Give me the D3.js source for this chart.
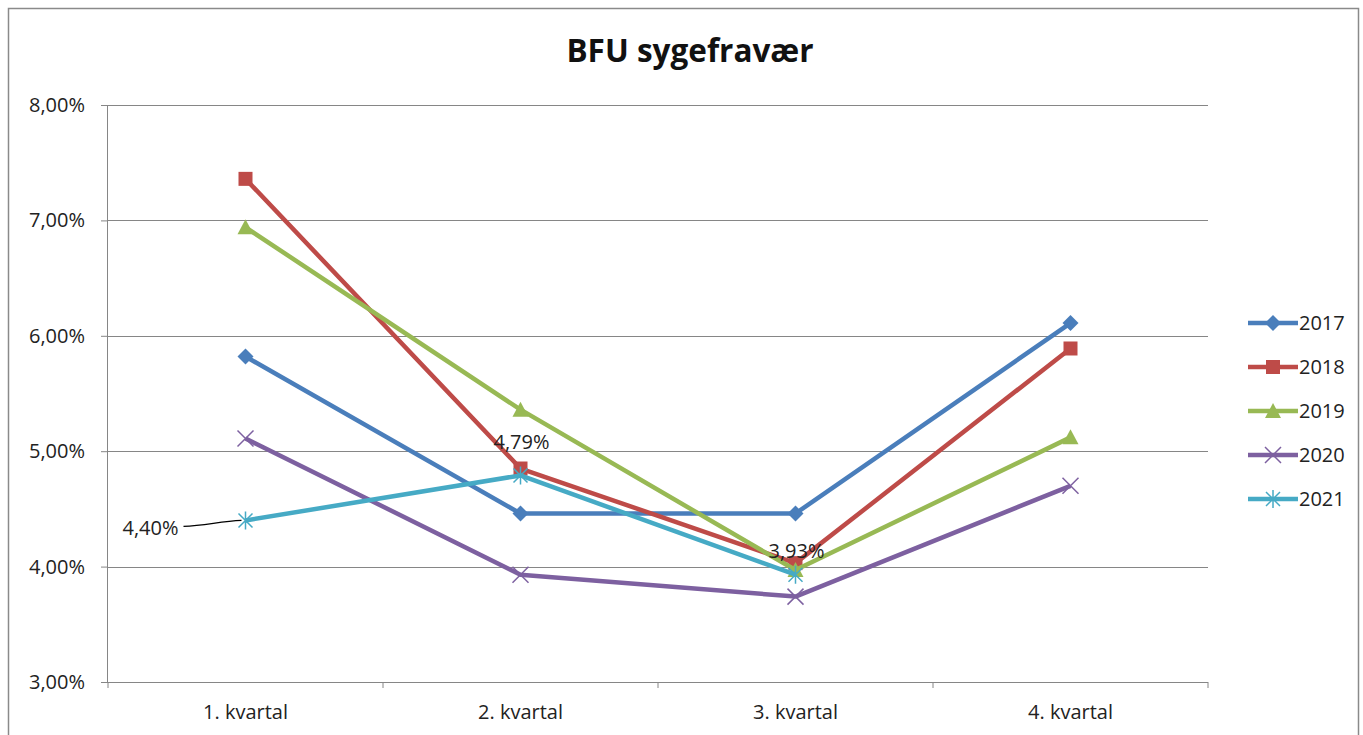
<!DOCTYPE html>
<html>
<head>
<meta charset="utf-8">
<style>
  body { margin: 0; background: #fff; }
  svg { font-family: "Open Sans", "Noto Sans", sans-serif; }
  .grid line { stroke: #868686; stroke-width: 1; }
  .axis path, .axis line { stroke: #868686; }
  .line { fill: none; stroke-width: 4.5; stroke-linejoin: round; }
</style>
</head>
<body>
<script src="https://d3js.org/d3.v7.min.js"></script>
<script>
var categories = ["1. kvartal", "2. kvartal", "3. kvartal", "4. kvartal"];
var years = ["2017", "2018", "2019", "2020", "2021"];
var v2017 = [5.82, 4.46, 4.46, 6.11];
var v2018 = [7.36, 4.85, 4.03, 5.89];
var v2019 = [6.94, 5.36, 3.97, 5.12];
var v2020 = [5.11, 3.93, 3.74, 4.70];
var v2021 = [4.40, 4.79, 3.93, null];
var yTicks = [3, 4, 5, 6, 7, 8];
var colors = ["#4A7EBB", "#BE4B48", "#98B954", "#7D60A0", "#46AAC5"];
var symbols = ["diamond", "square", "triangle", "x", "star"];
var seriesValues = [v2017, v2018, v2019, v2020, v2021];

var width = 1363, height = 735;
var margin = {top: 105, left: 108, right: 155, bottom: 53};
var plotW = width - margin.left - margin.right;
var plotH = height - margin.top - margin.bottom;
var FONT = "'Open Sans', 'Noto Sans', sans-serif";

var svg = d3.select("body").append("svg")
  .attr("width", width).attr("height", height);

// outer chart frame
svg.append("rect")
  .attr("x", 8.5).attr("y", 8.5)
  .attr("width", 1350).attr("height", 740)
  .attr("fill", "#fff").attr("stroke", "#8a8a8a").attr("stroke-width", 1.5);

svg.append("text")
  .attr("x", 690).attr("y", 62)
  .attr("text-anchor", "middle")
  .attr("font-family", FONT)
  .attr("font-size", "31.5px").attr("font-weight", "bold").attr("fill", "#111")
  .text("BFU sygefravær");

var g = svg.append("g").attr("transform", "translate(" + margin.left + "," + margin.top + ")");

var x = d3.scaleBand().domain(categories).range([0, plotW]);
var y = d3.scaleLinear().domain([3, 8]).range([plotH, 0]);
var fmt = function(d) { return d.toFixed(2).replace(".", ",") + "%"; };

// gridlines
g.append("g").attr("class", "grid")
  .selectAll("line").data(yTicks.slice(1)).enter().append("line")
  .attr("x1", 0).attr("x2", plotW)
  .attr("y1", function(d) { return Math.round(y(d)) + 0.5; })
  .attr("y2", function(d) { return Math.round(y(d)) + 0.5; });

// y axis
var yAxis = g.append("g").attr("class", "axis")
  .call(d3.axisLeft(y).tickValues(yTicks).tickFormat(fmt).tickSize(7).tickPadding(16));
yAxis.select(".domain").attr("d", "M-0.5,0V" + plotH);
yAxis.selectAll("text").attr("font-family", FONT).attr("font-size", "20px").attr("fill", "#222");

// x axis with ticks at band boundaries
var xAxis = g.append("g").attr("class", "axis")
  .attr("transform", "translate(0," + plotH + ")")
  .call(d3.axisBottom(x).tickSize(0).tickPadding(23));
xAxis.select(".domain").attr("d", "M0,0.5H" + plotW);
xAxis.selectAll("text").attr("font-family", FONT).attr("font-size", "20px").attr("fill", "#222");
xAxis.selectAll(".bnd").data(d3.range(categories.length + 1)).enter().append("line")
  .attr("class", "bnd")
  .attr("x1", function(i) { return i * x.step(); })
  .attr("x2", function(i) { return i * x.step(); })
  .attr("y1", 0).attr("y2", 6);

var cx = function(i) { return x(categories[i]) + x.bandwidth() / 2; };

function marker(sel, type, color) {
  if (type === "diamond") {
    sel.append("path").attr("d", "M0,-8L8,0L0,8L-8,0Z").attr("fill", color);
  } else if (type === "square") {
    sel.append("rect").attr("x", -7).attr("y", -7).attr("width", 14).attr("height", 14).attr("fill", color);
  } else if (type === "triangle") {
    sel.append("path").attr("d", "M0,-8L8,7L-8,7Z").attr("fill", color);
  } else if (type === "x") {
    sel.append("path").attr("d", "M-8,-8L8,8M-8,8L8,-8").attr("stroke", color).attr("stroke-width", 1.5);
  } else if (type === "star") {
    sel.append("path").attr("d", "M-7,-7L7,7M-7,7L7,-7M0,-9V9").attr("stroke", color).attr("stroke-width", 1.5);
  }
}

var line = d3.line()
  .defined(function(d) { return d != null; })
  .x(function(d, i) { return cx(i); })
  .y(function(d) { return y(d); });

seriesValues.forEach(function(vals, s) {
  g.append("path").datum(vals)
    .attr("class", "line")
    .attr("stroke", colors[s])
    .attr("d", line);
  vals.forEach(function(v, i) {
    if (v == null) return;
    var m = g.append("g").attr("transform", "translate(" + cx(i) + "," + y(v) + ")");
    marker(m, symbols[s], colors[s]);
  });
});

// data labels for 2021
var lbl = g.append("g").attr("font-family", FONT).attr("font-size", "20px").attr("fill", "#222");
var p0 = y(v2021[0]);
lbl.append("path")
  .attr("d", "M" + (cx(0) - 62) + "," + (p0 + 6) + "C" + (cx(0) - 40) + "," + (p0 + 5) + " " + (cx(0) - 25) + "," + (p0 + 1) + " " + (cx(0) - 4) + "," + p0)
  .attr("fill", "none").attr("stroke", "#000").attr("stroke-width", 1.2);
lbl.append("text").attr("x", cx(0) - 67).attr("y", p0 + 15)
  .attr("text-anchor", "end").text(fmt(v2021[0]));
lbl.append("text").attr("x", cx(1) + 1).attr("y", y(v2021[1]) - 26)
  .attr("text-anchor", "middle").text(fmt(v2021[1]));
lbl.append("text").attr("x", cx(2) + 1).attr("y", y(v2021[2]) - 17)
  .attr("text-anchor", "middle").text(fmt(v2021[2]));

// legend
var leg = svg.append("g").attr("transform", "translate(1248,323)");
years.forEach(function(yr, s) {
  var r = leg.append("g").attr("transform", "translate(0," + (s * 44) + ")");
  r.append("line").attr("x1", 0).attr("x2", 50).attr("stroke", colors[s]).attr("stroke-width", 4.5);
  marker(r.append("g").attr("transform", "translate(25,0)"), symbols[s], colors[s]);
  r.append("text").attr("x", 51).attr("y", 7).attr("font-family", FONT)
    .attr("font-size", "20px").attr("fill", "#222").text(yr);
});
</script>
</body>
</html>
